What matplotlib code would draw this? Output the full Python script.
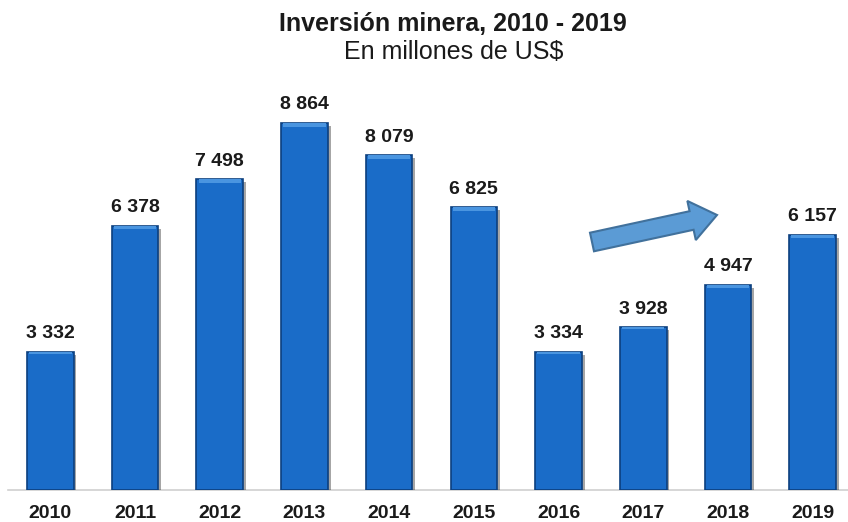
import matplotlib
matplotlib.use("Agg")
import matplotlib.pyplot as plt
from matplotlib.patches import FancyArrow
from matplotlib.transforms import IdentityTransform
import matplotlib.patheffects as pe

years = ["2010", "2011", "2012", "2013", "2014", "2015", "2016", "2017", "2018", "2019"]
values = [3332, 6378, 7498, 8864, 8079, 6825, 3334, 3928, 4947, 6157]
labels = ["3 332", "6 378", "7 498", "8 864", "8 079", "6 825", "3 334", "3 928", "4 947", "6 157"]

plt.rcParams['font.family'] = ['Liberation Sans', 'DejaVu Sans']

W, H = 848, 522
fig = plt.figure(figsize=(W / 100, H / 100), dpi=100)
ax = fig.add_axes([8 / W, 1 - 490 / H, (855 - 8) / W, (490 - 80) / H])

x = list(range(len(years)))
bars = ax.bar(x, values, width=0.55, color="#1a6cc8", edgecolor="#0c3f7e", linewidth=1.2,
              zorder=3)
for b in bars:
    b.set_path_effects([pe.SimplePatchShadow(offset=(2, -2), shadow_rgbFace="#000000", alpha=0.35),
                        pe.Normal()])
# lighter top bevel
ax.bar(x, [v * 0.012 for v in values], bottom=[v * 0.988 for v in values], width=0.5,
       color="#4a95e0", linewidth=0, zorder=4)

for xi, v, lab in zip(x, values, labels):
    ax.annotate(lab, (xi, v), xytext=(0, 7), textcoords="offset points", ha="center",
                va="bottom", fontsize=14, fontweight="bold", color="#1a1a1a")

ax.set_xlim(-0.5, 9.5)
ax.set_ylim(0, 9900)
ax.set_xticks(x)
ax.set_xticklabels(years, fontsize=14, fontweight="bold", color="#1a1a1a")
ax.tick_params(axis="x", length=0, pad=11)
ax.set_yticks([])
for s in ["top", "right", "left"]:
    ax.spines[s].set_visible(False)
ax.spines["bottom"].set_color("#d0d0d0")
ax.spines["bottom"].set_linewidth(1.2)

fig.text(453 / W, 1 - 24 / H, "Inversión minera, 2010 - 2019", ha="center", va="center",
         fontsize=18, fontweight="bold", color="#1a1a1a")
fig.text(454 / W, 1 - 52 / H, "En millones de US$", ha="center", va="center",
         fontsize=18, color="#1a1a1a")

arrow = FancyArrow(592, H - 242, 125, 27, width=19, head_width=40, head_length=26,
                   length_includes_head=True, transform=IdentityTransform(),
                   facecolor="#5b9bd5", edgecolor="#41719c", linewidth=1.5)
fig.patches.append(arrow)

fig.savefig("out.png", dpi=100)
